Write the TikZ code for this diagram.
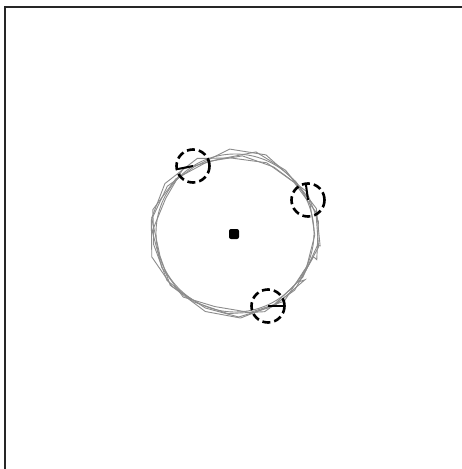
\documentclass[tikz,border=0pt]{standalone}
\begin{document}
\begin{tikzpicture}[x=1pt,y=-1pt,
  frame/.style={line width=2.2pt,draw=black!85},
  wobble/.style={draw=black!45,line width=0.9pt},
  marker/.style={draw=black,line width=2.6pt,dash pattern=on 8pt off 4pt},
  hand/.style={draw=black,line width=2pt},
  hub/.style={fill=black,draw=none}]
\useasboundingbox (0,0) rectangle (462,469);
\fill[white] (0,0) rectangle (462,469);
\coordinate (tl) at (5,7);
\coordinate (tr) at (462,7);
\coordinate (bl) at (5,469);
\draw[frame] (tr) -- (tl) -- (bl);
% wobbly traces
\pgfmathsetseed{11}
\foreach \k in {1,2,3,4}{
  \draw[wobble] plot[variable=\t,samples=15,domain=0:360]
    ({235+(81+6*rand)*cos(\t+\k*9)},{233+(81+6*rand)*sin(\t+\k*9)}) -- cycle;
}
\draw[wobble] (235,233) circle (79);
% centre
\node[hub,minimum size=10pt,inner sep=0pt,rounded corners=2pt] (c) at (234,234) {};
% markers
\node[marker,circle,minimum size=33pt,inner sep=0pt] (m1) at (193,166) {};
\node[marker,circle,minimum size=33pt,inner sep=0pt] (m2) at (308,200) {};
\node[marker,circle,minimum size=33pt,inner sep=0pt] (m3) at (268,306) {};
\draw[hand] (m1.center) -- ++(-15,3);
\draw[hand] (m2.center) -- ++(-2,-15);
\draw[hand] (m3.center) -- ++(16,0);
\end{tikzpicture}
\end{document}
